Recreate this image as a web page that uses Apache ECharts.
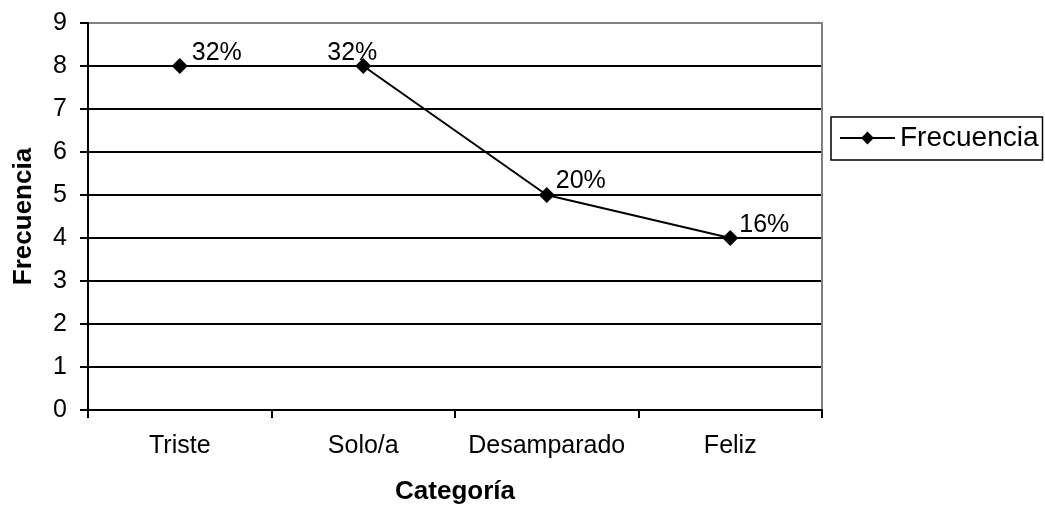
<!DOCTYPE html>
<html>
<head>
<meta charset="utf-8">
<script src="https://cdn.jsdelivr.net/npm/echarts@6/dist/echarts.min.js"></script>
<style>
  html,body{margin:0;padding:0;background:#fff;}
  #chart{width:1045px;height:510px;}
</style>
</head>
<body>
<div id="chart"></div>
<script>
var categorias=['Triste','Solo/a','Desamparado','Feliz'];
var frecuencia=[8,8,5,4];
var porcentajes=['32%','32%','20%','16%'];
var yTicks=[0,1,2,3,4,5,6,7,8,9];

var font='"Liberation Sans", Arial, sans-serif';
// offset de cada etiqueta, como en el original
var labelOffsets=[[37,8],[-11,8],[34,7],[34,8]];
// la última línea (9) es el borde gris del área
var gridColors=yTicks.map(function(v){return v===9?'#808080':'#000';});

var myChart=echarts.init(document.getElementById('chart'));
var option={
    animation:false,
    textStyle:{fontFamily:font,color:'#000'},
    grid:{left:88,right:223,top:23,bottom:98},
    legend:{
        data:['Frecuencia'],
        left:831,
        top:117,
        orient:'vertical',
        itemWidth:55,
        itemHeight:16,
        padding:[7,4,8,8],
        borderColor:'#000',
        borderWidth:1.5,
        borderRadius:0,
        textStyle:{fontSize:28,color:'#000',fontFamily:font}
    },
    xAxis:{
        type:'category',
        data:categorias,
        boundaryGap:true,
        name:'Categoría',
        nameLocation:'middle',
        nameGap:69,
        nameTextStyle:{fontSize:26,fontWeight:'bold',color:'#000',fontFamily:font},
        axisLine:{show:true,lineStyle:{color:'#000',width:2}},
        axisTick:{show:true,interval:0,alignWithLabel:false,length:8,lineStyle:{color:'#000',width:2}},
        axisLabel:{interval:0,fontSize:25,color:'#000',margin:24,fontFamily:font}
    },
    yAxis:[
        {
            type:'value',
            min:0,max:9,interval:1,
            name:'Frecuencia',
            nameLocation:'middle',
            nameGap:51,
            nameTextStyle:{fontSize:26,fontWeight:'bold',color:'#000',fontFamily:font},
            axisLine:{show:true,lineStyle:{color:'#000',width:2}},
            axisTick:{show:true,length:8,lineStyle:{color:'#000',width:2}},
            axisLabel:{fontSize:25,color:'#000',margin:21,fontFamily:font},
            splitLine:{lineStyle:{color:gridColors,width:2}}
        },
        {
            type:'value',
            position:'right',
            min:0,max:9,interval:1,
            axisLine:{show:true,lineStyle:{color:'#808080',width:2}},
            axisTick:{show:false},
            axisLabel:{show:false},
            splitLine:{show:false}
        }
    ],
    series:[
        {
            name:'Frecuencia',
            type:'line',
            data:frecuencia.map(function(v,i){
                return {value:v,label:{offset:labelOffsets[i]}};
            }),
            symbol:'diamond',
            symbolSize:16,
            itemStyle:{color:'#000'},
            lineStyle:{color:'#000',width:2},
            label:{
                show:true,
                position:'top',
                distance:0,
                fontSize:25,
                color:'#000',
                fontFamily:font,
                formatter:function(p){return porcentajes[p.dataIndex];}
            }
        }
    ]
};
myChart.setOption(option);
</script>
</body>
</html>
